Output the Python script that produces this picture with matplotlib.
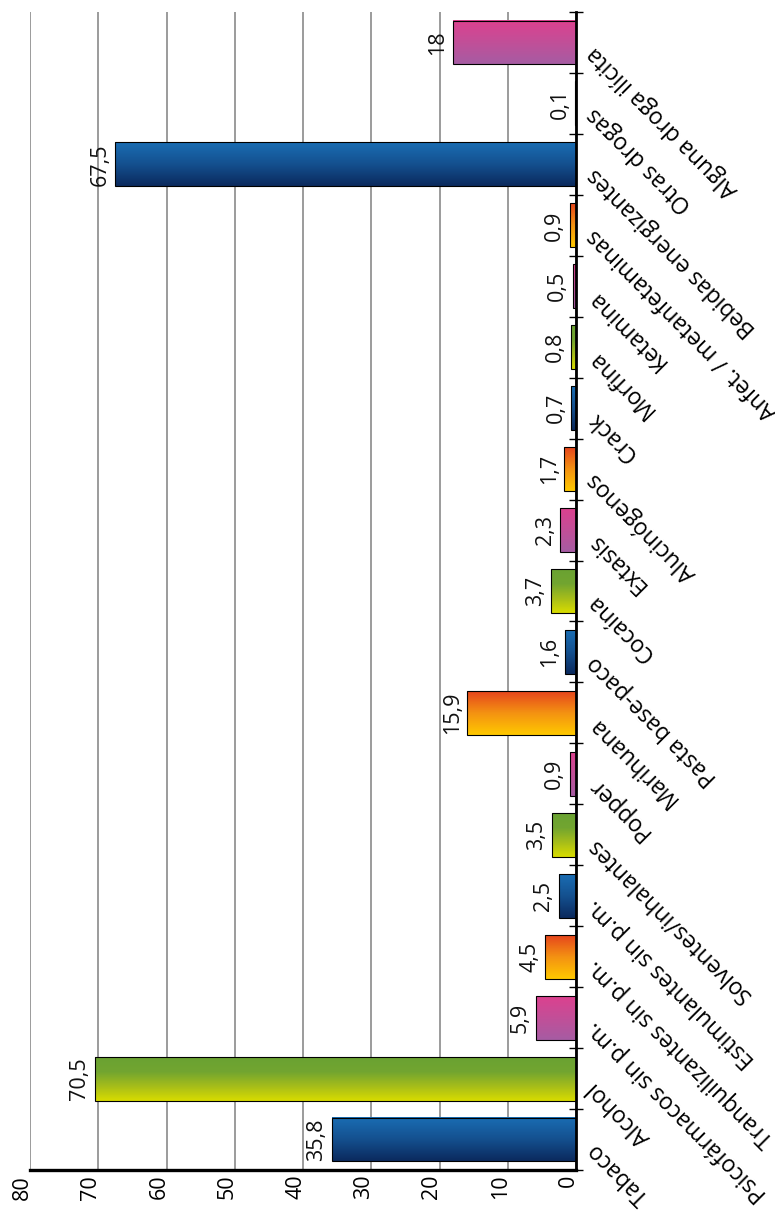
import numpy as np
import matplotlib.pyplot as plt
from matplotlib.colors import LinearSegmentedColormap

plt.rcParams['font.family'] = ['Open Sans', 'DejaVu Sans']

# Datos (porcentajes de consumo)
categorias = ['Tabaco', 'Alcohol', 'Psicofármacos sin p.m.', 'Tranquilizantes sin p.m.',
              'Estimulantes sin p.m.', 'Solventes/inhalantes', 'Popper', 'Marihuana',
              'Pasta base-paco', 'Cocaína', 'Extasis', 'Alucinógenos', 'Crack', 'Morfina',
              'Ketamina', 'Anfet. / metanfetaminas', 'Bebidas energizantes', 'Otras drogas',
              'Alguna droga ilícita']
valores = [35.8, 70.5, 5.9, 4.5, 2.5, 3.5, 0.9, 15.9, 1.6, 3.7, 2.3, 1.7, 0.7, 0.8,
           0.5, 0.9, 67.5, 0.1, 18]
ticks_valor = [0, 10, 20, 30, 40, 50, 60, 70, 80]

# degradados de abajo hacia arriba: azul, verde, rosa, naranja
degradados = [
    ['#0b2a5e', '#14508f', '#1a6db3'],
    ['#d8dc00', '#a6bd1a', '#72a530', '#6aa232'],
    ['#a65ca3', '#c24f98', '#dc418f'],
    ['#ffc800', '#f49212', '#e6461d'],
]
cmaps = [LinearSegmentedColormap.from_list('g%d' % k, c) for k, c in enumerate(degradados)]

fig = plt.figure(figsize=(7.75, 12.14), dpi=100)
ax = fig.add_axes([30 / 775, 1 - 1170 / 1214, 546 / 775, 1158 / 1214])

y = np.arange(len(categorias))
bars = ax.barh(y, valores, height=0.72, color='none', edgecolor='black', linewidth=0.8, zorder=3)

grad = np.linspace(0, 1, 64).reshape(-1, 1)
for i, b in enumerate(bars):
    x0 = b.get_x()
    w = b.get_width()
    y0 = b.get_y()
    h = b.get_height()
    ax.imshow(grad, cmap=cmaps[i % 4], origin='lower', aspect='auto',
              extent=(x0, x0 + w, y0, y0 + h), zorder=2, interpolation='bilinear')
    txt = ('%g' % valores[i]).replace('.', ',')
    ax.annotate(txt, xy=(x0 + w, i), xytext=(-3.4, 0), textcoords='offset points',
                rotation=90, ha='right', va='center', fontsize=15.5, color='#111111')

ax.set_xlim(80, 0)
ax.set_ylim(-0.5, len(categorias) - 0.5)

ax.set_xticks(ticks_valor)
ax.set_xticklabels([])
ax.tick_params(axis='x', length=0)
ax.grid(axis='x', color='#8a8a8a', linewidth=1.2, zorder=0)
ax.set_axisbelow(True)

for t in ticks_valor:
    ax.annotate(str(t), xy=(t, 0), xycoords=('data', 'axes fraction'), xytext=(-5.4, -3.5),
                textcoords='offset points', rotation=90, ha='center', va='top', fontsize=15.5)

ax.yaxis.tick_right()
ax.set_yticks(np.arange(len(categorias) + 1) - 0.5)
ax.set_yticklabels([])
ax.tick_params(axis='y', direction='inout', length=10, width=1, color='black')

for i, cat in enumerate(categorias):
    ax.annotate(cat, xy=(1.0, i), xycoords=('axes fraction', 'data'), xytext=(10.8, -5),
                textcoords='offset points', rotation=135, rotation_mode='anchor',
                ha='right', va='center', fontsize=16.5)

ax.spines['left'].set_visible(False)
ax.spines['top'].set_visible(False)
ax.spines['right'].set_linewidth(2)
ax.spines['bottom'].set_linewidth(2.4)

fig.savefig('out.png', dpi=100)
